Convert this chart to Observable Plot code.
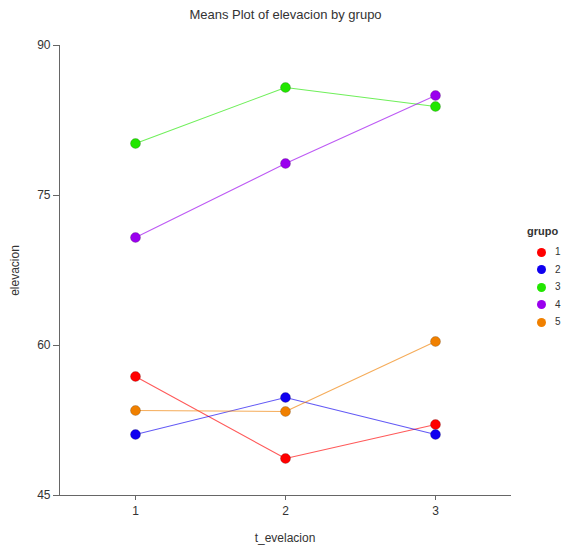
<!DOCTYPE html>
<html>
<head>
<meta charset="utf-8">
<script src="https://cdn.jsdelivr.net/npm/d3@7"></script>
<script src="https://cdn.jsdelivr.net/npm/@observablehq/plot@0.6"></script>
<style>
  body { margin: 0; background: #fff; font-family: "Liberation Sans", Arial, sans-serif; }
  #wrap { position: relative; width: 571px; height: 556px; }
  #title { height: 30px; line-height: 30px; text-align: center; font-size: 13px; color: #333; }
  #legend { position: absolute; left: 527px; top: 225px; font-size: 10px; color: #333; }
  #legend .head { font-weight: bold; font-size: 11px; margin-bottom: 6px; }
  #legend .item { position: relative; height: 17.5px; line-height: 17.5px; }
  #legend .dot { position: absolute; left: 10px; top: 4.5px; width: 9px; height: 9px; border-radius: 50%; }
  #legend .lab { position: absolute; left: 28px; }
</style>
</head>
<body>
<div id="wrap">
  <div id="title">Means Plot of elevacion by grupo</div>
  <div id="chart"></div>
  <div id="legend"></div>
</div>
<script>
const grupos = ["1", "2", "3", "4", "5"];
const evaluaciones = ["1", "2", "3"];
const medias1 = [56.9, 48.7, 52.1];
const medias2 = [51.1, 54.8, 51.1];
const medias3 = [80.2, 85.8, 83.9];
const medias4 = [70.8, 78.2, 85.0];
const medias5 = [53.5, 53.4, 60.4];
const colores = ["#ff0000", "#1000f0", "#22e600", "#9a00ee", "#f08000"];
const yTicks = [45, 60, 75, 90];

const series = [medias1, medias2, medias3, medias4, medias5];
const data = [];
grupos.forEach((g, i) => evaluaciones.forEach((t, j) => data.push({grupo: g, t_evelacion: t, elevacion: series[i][j]})));

const plot = Plot.plot({
  width: 571,
  height: 526,
  marginLeft: 59,
  marginRight: 61,
  marginTop: 15,
  marginBottom: 61,
  style: {fontFamily: "Liberation Sans, Arial, sans-serif", fontSize: "12px", color: "#333", background: "#fff"},
  x: {type: "band", domain: evaluaciones, padding: 0, align: 0.5},
  y: {domain: [45, 90]},
  color: {domain: grupos, range: colores},
  marks: [
    Plot.frame({anchor: "bottom", stroke: "#666"}),
    Plot.frame({anchor: "left", stroke: "#666"}),
    Plot.axisY({ticks: yTicks, tickSize: 6, tickPadding: 3, stroke: "#666", label: "elevacion", labelAnchor: "center", labelArrow: false, labelOffset: 49, fontSize: 12}),
    Plot.axisX({tickSize: 5, tickPadding: 6, stroke: "#666", label: "t_evelacion", labelAnchor: "center", labelArrow: false, labelOffset: 46, fontSize: 12}),
    Plot.line(data, {x: "t_evelacion", y: "elevacion", z: "grupo", stroke: "grupo", strokeOpacity: 0.65, strokeWidth: 1.1}),
    Plot.dot(data, {x: "t_evelacion", y: "elevacion", fill: "grupo", stroke: "black", strokeOpacity: 0.25, strokeWidth: 0.7, r: 5})
  ]
});
document.getElementById("chart").appendChild(plot);

const legend = document.getElementById("legend");
const head = document.createElement("div");
head.className = "head";
head.textContent = "grupo";
legend.appendChild(head);
grupos.forEach((g, i) => {
  const item = document.createElement("div");
  item.className = "item";
  item.innerHTML = `<span class="dot" style="background:${colores[i]}"></span><span class="lab">${g}</span>`;
  legend.appendChild(item);
});
</script>
</body>
</html>
